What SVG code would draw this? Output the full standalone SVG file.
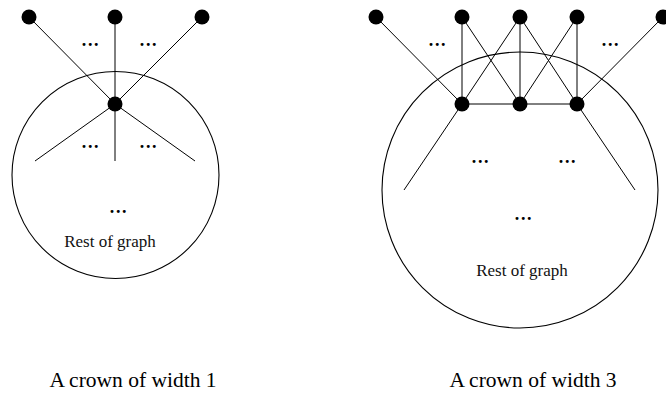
<svg xmlns="http://www.w3.org/2000/svg" width="666" height="395" viewBox="0 0 666 395">
<style>
.edge{stroke:#000;stroke-width:1;fill:none}
.ring{stroke:#000;stroke-width:1.1;fill:none}
.node{fill:#000}
.dots{font-family:"Liberation Serif",serif;font-size:18px;font-weight:bold;letter-spacing:1.6px;text-anchor:middle;fill:#000}
.lbl{font-family:"Liberation Serif",serif;font-size:17px;text-anchor:middle;fill:#111}
.cap{font-family:"Liberation Serif",serif;font-size:21.5px;text-anchor:middle;fill:#000}
</style>
<rect width="666" height="395" fill="#fff"/>
<g id="ring1"><circle class="ring" cx="115.5" cy="175" r="103.5"/></g>
<g id="ring2"><circle class="ring" cx="520" cy="190" r="138"/></g>
<g id="connectors">
<line class="edge" x1="29" y1="17" x2="115" y2="104"/>
<line class="edge" x1="115" y1="17" x2="115" y2="104"/>
<line class="edge" x1="202" y1="17" x2="115" y2="104"/>
<line class="edge" x1="115" y1="104" x2="35" y2="161"/>
<line class="edge" x1="115" y1="104" x2="115" y2="161"/>
<line class="edge" x1="115" y1="104" x2="195" y2="161"/>
<line class="edge" x1="376" y1="17" x2="462" y2="104"/>
<line class="edge" x1="462" y1="17" x2="462" y2="104"/>
<line class="edge" x1="462" y1="17" x2="520" y2="104"/>
<line class="edge" x1="520" y1="17" x2="462" y2="104"/>
<line class="edge" x1="520" y1="17" x2="520" y2="104"/>
<line class="edge" x1="520" y1="17" x2="577" y2="104"/>
<line class="edge" x1="577" y1="17" x2="520" y2="104"/>
<line class="edge" x1="577" y1="17" x2="577" y2="104"/>
<line class="edge" x1="663" y1="17" x2="577" y2="104"/>
<line class="edge" x1="462" y1="104" x2="577" y2="104"/>
<line class="edge" x1="462" y1="104" x2="404" y2="190"/>
<line class="edge" x1="577" y1="104" x2="635" y2="190"/>
</g>
<g id="n1a"><circle class="node" cx="29" cy="17" r="7.5"/></g>
<g id="n1b"><circle class="node" cx="115" cy="17" r="7.5"/></g>
<g id="n1c"><circle class="node" cx="202" cy="17" r="7.5"/></g>
<g id="n1center"><circle class="node" cx="115" cy="104" r="7.5"/></g>
<g id="n2a"><circle class="node" cx="376" cy="17" r="7.5"/></g>
<g id="n2b"><circle class="node" cx="462" cy="17" r="7.5"/></g>
<g id="n2c"><circle class="node" cx="520" cy="17" r="7.5"/></g>
<g id="n2d"><circle class="node" cx="577" cy="17" r="7.5"/></g>
<g id="n2e"><circle class="node" cx="663" cy="17" r="7.5"/></g>
<g id="n2l"><circle class="node" cx="462" cy="104" r="7.5"/></g>
<g id="n2m"><circle class="node" cx="520" cy="104" r="7.5"/></g>
<g id="n2r"><circle class="node" cx="577" cy="104" r="7.5"/></g>
<g id="texts">
<text class="dots" x="91" y="46">...</text>
<text class="dots" x="149" y="46">...</text>
<text class="dots" x="91" y="148">...</text>
<text class="dots" x="149" y="148">...</text>
<text class="dots" x="119" y="213">...</text>
<text class="lbl" x="110" y="247">Rest of graph</text>
<text class="dots" x="438" y="46">...</text>
<text class="dots" x="611" y="46">...</text>
<text class="dots" x="481" y="163">...</text>
<text class="dots" x="568" y="163">...</text>
<text class="dots" x="524" y="220">...</text>
<text class="lbl" x="522" y="276">Rest of graph</text>
<text class="cap" x="133" y="387">A crown of width 1</text>
<text class="cap" x="533" y="387">A crown of width 3</text>
</g>
</svg>
